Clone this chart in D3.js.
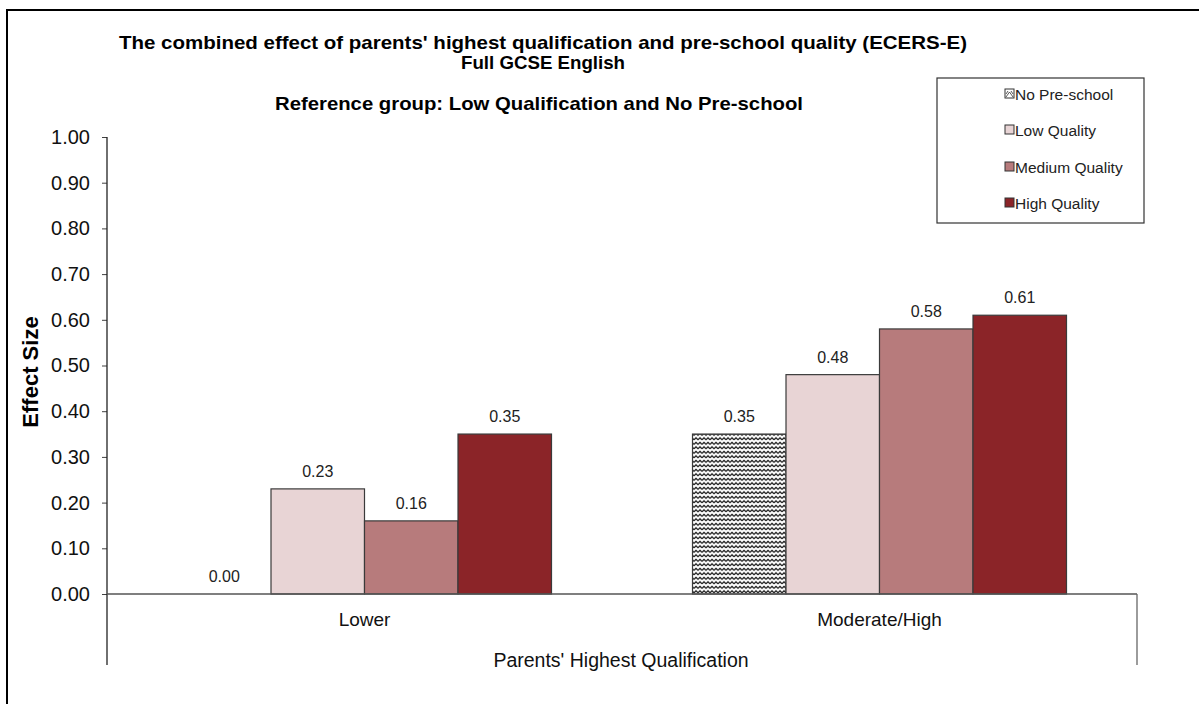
<!DOCTYPE html>
<html>
<head>
<meta charset="utf-8">
<script src="https://cdn.jsdelivr.net/npm/d3@7"></script>
<style>
  html, body { margin: 0; padding: 0; background: #fff; }
  svg { display: block; font-family: "Liberation Sans", Arial, sans-serif; }
</style>
</head>
<body>
<svg id="chart" width="1199" height="704"></svg>
<script>
// ---- data ----
const categories = ["Lower", "Moderate/High"];
const seriesNames = ["No Pre-school", "Low Quality", "Medium Quality", "High Quality"];
const noPreschool = [0.00, 0.35];
const lowQuality = [0.23, 0.48];
const mediumQuality = [0.16, 0.58];
const highQuality = [0.35, 0.61];
const yTicks = [0, 0.1, 0.2, 0.3, 0.4, 0.5, 0.6, 0.7, 0.8, 0.9, 1.0];

const seriesValues = [noPreschool, lowQuality, mediumQuality, highQuality];
const colors = ["url(#zigzag)", "#E8D4D5", "#B77B7C", "#8B2428"];

const svg = d3.select("#chart");

// pattern
const defs = svg.append("defs");
const pat = defs.append("pattern").attr("id", "zigzag")
  .attr("patternUnits", "userSpaceOnUse").attr("width", 8).attr("height", 4.5);
pat.append("rect").attr("width", 8).attr("height", 4.5).attr("fill", "#fff");
pat.append("path").attr("d", "M0,3.3 L2,1.3 L4,3.3 L6,1.3 L8,3.3")
  .attr("fill", "none").attr("stroke", "#111").attr("stroke-width", 1.2);

// outer border
svg.append("rect").attr("x", 7).attr("y", 10).attr("width", 1400).attr("height", 900)
  .attr("fill", "none").attr("stroke", "#000").attr("stroke-width", 2);

const left = 107, right = 1137, y0 = 594, y1 = 137, axisBottom = 665;

const x0 = d3.scaleBand().domain(categories).range([left, right]).paddingInner(0).paddingOuter(0);
const groupPad = 70.5;
const x1 = d3.scaleBand().domain(seriesNames).range([groupPad, x0.bandwidth() - groupPad]).padding(0);
const y = d3.scaleLinear().domain([0, 1]).range([y0, y1]);

// titles
const titleFont = '"Liberation Sans Narrow", "Arial Narrow", "Liberation Sans", Arial, sans-serif';
function title(txt, x, yy, len) {
  svg.append("text").attr("x", x).attr("y", yy).attr("text-anchor", "middle")
    .attr("font-family", titleFont).attr("font-weight", "bold").attr("font-size", 19)
    .attr("textLength", len).attr("lengthAdjust", "spacingAndGlyphs").attr("fill", "#000")
    .text(txt);
}
title("The combined effect of parents' highest qualification and pre-school quality (ECERS-E)", 543, 49, 848);
title("Full GCSE English", 543, 69, 164);
title("Reference group: Low Qualification and No Pre-school", 539, 110, 528);

// y axis
const yAxis = d3.axisLeft(y).tickValues(yTicks).tickFormat(d3.format(".2f")).tickSize(5).tickPadding(12);
const gy = svg.append("g").attr("transform", `translate(${left},0)`).call(yAxis);
gy.select(".domain").remove();
gy.selectAll(".tick line").attr("stroke", "#404040");
gy.selectAll(".tick text").attr("font-size", 20).attr("fill", "#111")
  .attr("font-family", '"Liberation Sans", Arial, sans-serif');
svg.append("line").attr("x1", left).attr("x2", left).attr("y1", y1).attr("y2", axisBottom)
  .attr("stroke", "#222").attr("stroke-width", 1.3);

// bars
const groups = svg.append("g").selectAll("g").data(categories).join("g")
  .attr("transform", d => `translate(${x0(d)},0)`);
groups.selectAll("rect")
  .data((c, ci) => seriesNames.map((s, si) => ({ s, si, v: seriesValues[si][ci] })))
  .join("rect")
  .attr("x", d => x1(d.s)).attr("width", x1.bandwidth())
  .attr("y", d => y(d.v)).attr("height", d => y0 - y(d.v))
  .attr("fill", d => colors[d.si])
  .attr("stroke", d => d.v > 0 ? "#3a3a3a" : "none").attr("stroke-width", 1.2);
groups.selectAll("text.val")
  .data((c, ci) => seriesNames.map((s, si) => ({ s, si, v: seriesValues[si][ci] })))
  .join("text").attr("class", "val")
  .attr("x", d => x1(d.s) + x1.bandwidth() / 2).attr("y", d => y(d.v) - 12)
  .attr("text-anchor", "middle").attr("font-size", 16).attr("fill", "#222")
  .text(d => d3.format(".2f")(d.v));

// x axis
svg.append("line").attr("x1", left).attr("x2", right).attr("y1", y0).attr("y2", y0)
  .attr("stroke", "#555").attr("stroke-width", 1.3);
svg.append("line").attr("x1", right).attr("x2", right).attr("y1", y0).attr("y2", axisBottom)
  .attr("stroke", "#666").attr("stroke-width", 1.3);
svg.append("g").selectAll("text").data(categories).join("text")
  .attr("x", d => x0(d) + x0.bandwidth() / 2).attr("y", 626)
  .attr("text-anchor", "middle").attr("font-size", 19).attr("fill", "#111").text(d => d);
svg.append("text").attr("x", 621).attr("y", 667).attr("text-anchor", "middle")
  .attr("font-size", 19.5).attr("fill", "#111").text("Parents' Highest Qualification");

// y axis title
svg.append("text").attr("transform", "translate(38,372) rotate(-90)")
  .attr("text-anchor", "middle").attr("font-weight", "bold").attr("font-size", 22)
  .attr("fill", "#000").text("Effect Size");

// legend
const lg = svg.append("g");
lg.append("rect").attr("x", 937).attr("y", 78).attr("width", 207).attr("height", 145)
  .attr("fill", "#fff").attr("stroke", "#333").attr("stroke-width", 1.2);
const legendY = [94, 130, 167, 203];
const items = lg.selectAll("g.item").data(seriesNames).join("g").attr("class", "item")
  .attr("transform", (d, i) => `translate(1005,${legendY[i]})`);
items.append("rect").attr("x", 0).attr("y", -5).attr("width", 9).attr("height", 9)
  .attr("fill", (d, i) => i === 0 ? "#fff" : colors[i]).attr("stroke", "#333").attr("stroke-width", 1);
items.filter((d, i) => i === 0).append("path").attr("d", "M1,3 L4.5,-2 L8,3 M1,0 L3,-3 M6,-3 L8,0")
  .attr("fill", "none").attr("stroke", "#333").attr("stroke-width", 0.8);
items.append("text").attr("x", 10).attr("y", 5.5).attr("font-size", 15.5).attr("fill", "#222").text(d => d);
</script>
</body>
</html>
